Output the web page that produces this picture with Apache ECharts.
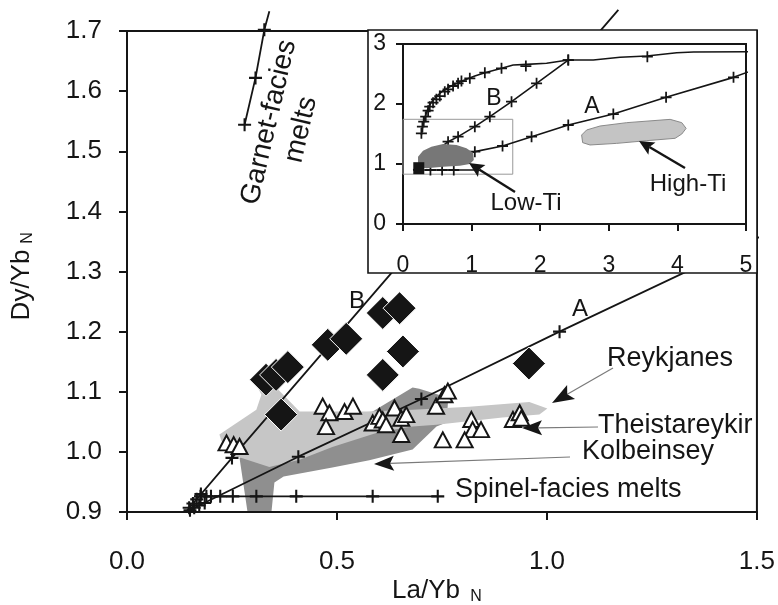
<!DOCTYPE html>
<html>
<head>
<meta charset="utf-8">
<script src="https://cdn.jsdelivr.net/npm/echarts@6/dist/echarts.min.js"></script>
<style>
  html, body { margin: 0; padding: 0; background: #fff; }
  #chart { width: 778px; height: 605px; }
</style>
</head>
<body>
<div id="chart"></div>
<script>
// ---------- main diagram: Dy/Yb(N) against La/Yb(N) ----------
const mainXTicks = [0.0, 0.5, 1.0, 1.5];
const mainYTicks = [0.9, 1.0, 1.1, 1.2, 1.3, 1.4, 1.5, 1.6, 1.7];

// sample groups
const diamonds = [
  [0.331, 1.120], [0.355, 1.128], [0.383, 1.141], [0.367, 1.062],
  [0.478, 1.178], [0.522, 1.188], [0.609, 1.231], [0.649, 1.239],
  [0.657, 1.167], [0.609, 1.128], [0.957, 1.147]
];
const triangles = [
  [0.237, 1.015], [0.254, 1.012], [0.268, 1.009],
  [0.466, 1.076], [0.482, 1.065], [0.474, 1.042], [0.518, 1.067], [0.538, 1.076],
  [0.585, 1.048], [0.601, 1.059], [0.609, 1.053], [0.617, 1.045], [0.637, 1.073],
  [0.653, 1.056], [0.665, 1.062], [0.653, 1.029], [0.736, 1.076], [0.756, 1.095],
  [0.764, 1.101], [0.820, 1.054], [0.823, 1.037], [0.843, 1.037], [0.752, 1.020],
  [0.804, 1.020], [0.919, 1.054], [0.935, 1.065], [0.939, 1.056]
];

// compositional fields
const reykjanesField = [
  [0.308, 1.112], [0.358, 1.105], [0.411, 1.067], [0.570, 1.067], [0.680, 1.070],
  [0.815, 1.075], [0.958, 1.083], [1.001, 1.072], [0.982, 1.062], [0.894, 1.057],
  [0.737, 1.045], [0.680, 1.042], [0.601, 1.033], [0.489, 1.008], [0.411, 0.987],
  [0.339, 0.975], [0.251, 0.995], [0.225, 1.018], [0.220, 1.029], [0.308, 1.070],
  [0.320, 1.095]
];
const kolbeinseyField = [
  [0.268, 0.990], [0.287, 0.900], [0.344, 0.900], [0.351, 0.949], [0.373, 0.959],
  [0.489, 0.974], [0.577, 0.986], [0.680, 1.004], [0.737, 1.042], [0.761, 1.049],
  [0.765, 1.090], [0.696, 1.105], [0.680, 1.107], [0.585, 1.067], [0.411, 1.020],
  [0.292, 1.004]
];

// melting curves
const curveA = [[0.14, 0.900], [0.408, 0.992], [0.701, 1.088], [1.03, 1.200], [1.55, 1.372]];
const curveATicks = [[0.150, 0.903], [0.160, 0.907], [0.172, 0.911], [0.185, 0.915],
                     [0.408, 0.992], [0.701, 1.088], [1.03, 1.200]];
const curveB = [[0.14, 0.900], [0.25, 0.990], [1.17, 1.735]];
const curveBTicks = [[0.148, 0.907], [0.157, 0.914], [0.166, 0.921], [0.176, 0.930], [0.25, 0.990]];
const spinelMelts = [[0.160, 0.926], [0.740, 0.926]];
const spinelTicks = [[0.175, 0.926], [0.189, 0.926], [0.200, 0.926], [0.222, 0.926], [0.252, 0.926],
                     [0.308, 0.926], [0.403, 0.926], [0.585, 0.926], [0.740, 0.926]];
const garnetMelts = [[0.280, 1.544], [0.306, 1.622], [0.327, 1.702], [0.339, 1.733]];
const garnetTicks = [[0.280, 1.544], [0.306, 1.622], [0.327, 1.702]];

// ---------- inset: full range of the melting curves ----------
const insetXTicks = [0, 1, 2, 3, 4, 5];
const insetYTicks = [0, 1, 2, 3];
const insetGarnet = [
  [0.268, 1.483], [0.283, 1.594], [0.302, 1.706], [0.331, 1.817], [0.366, 1.928],
  [0.404, 2.011], [0.448, 2.078], [0.511, 2.150], [0.584, 2.222], [0.657, 2.272],
  [0.730, 2.317], [0.828, 2.367], [0.925, 2.411], [1.047, 2.467], [1.193, 2.522],
  [1.412, 2.589], [1.606, 2.650], [1.801, 2.661], [2.093, 2.678], [2.409, 2.733],
  [2.774, 2.733], [3.164, 2.778], [3.553, 2.800], [3.991, 2.855], [4.234, 2.867],
  [5.159, 2.872]
];
const insetGarnetTicks = [
  [0.268, 1.511], [0.283, 1.622], [0.302, 1.706], [0.331, 1.789], [0.366, 1.889],
  [0.390, 1.956], [0.438, 2.022], [0.487, 2.078], [0.536, 2.133], [0.609, 2.206],
  [0.657, 2.244], [0.730, 2.300], [0.803, 2.344], [0.852, 2.383], [0.974, 2.428],
  [1.193, 2.522], [1.436, 2.594], [1.791, 2.633], [2.409, 2.733], [3.562, 2.789]
];
const insetB = [[0.15, 0.90], [0.657, 1.372], [0.803, 1.456], [1.047, 1.622], [1.266, 1.789],
                [1.582, 2.039], [1.947, 2.344], [2.409, 2.733]];
const insetBTicks = [[0.657, 1.372], [0.803, 1.456], [1.047, 1.622], [1.266, 1.789],
                     [1.582, 2.039], [1.947, 2.344], [2.409, 2.733]];
const insetA = [[0.15, 0.90], [1.047, 1.206], [1.451, 1.300], [1.874, 1.456], [2.409, 1.650],
                [3.066, 1.833], [3.835, 2.111], [4.818, 2.444], [5.174, 2.594]];
const insetATicks = [[1.047, 1.206], [1.451, 1.300], [1.874, 1.456], [2.409, 1.650],
                     [3.066, 1.833], [3.835, 2.111], [4.818, 2.444]];
const insetSpinel = [[0.15, 0.90], [1.10, 0.90]];
const insetSpinelTicks = [[0.40, 0.90], [0.57, 0.90], [0.74, 0.90]];
const insetSamples = [[0.23, 0.93]];
const lowTiField = [
  [0.219, 0.956], [0.219, 1.122], [0.292, 1.222], [0.414, 1.289], [0.584, 1.333],
  [0.779, 1.317], [0.925, 1.261], [1.022, 1.189], [1.032, 1.067], [0.974, 1.000],
  [0.828, 0.972], [0.584, 0.956], [0.342, 0.928]
];
const highTiField = [
  [2.604, 1.483], [2.677, 1.567], [2.872, 1.633], [3.261, 1.689], [3.894, 1.744],
  [4.064, 1.689], [4.127, 1.594], [4.064, 1.500], [3.966, 1.428], [3.553, 1.389],
  [3.115, 1.344], [2.726, 1.317], [2.619, 1.356]
];
const mainFrame = [[0, 0.83], [1.6, 0.83], [1.6, 1.745], [0, 1.745], [0, 0.83]];

// ---------- styling ----------
const INK = '#151515';
const FONT = '"Liberation Sans", Arial, Helvetica, sans-serif';
const PLUS = 'path://M4.2,0H5.8V4.2H10V5.8H5.8V10H4.2V5.8H0V4.2H4.2Z';

function lineSeries(data, axis, width, zl, z, color) {
  return {
    type: 'line', data, xAxisIndex: axis, yAxisIndex: axis, symbol: 'none', clip: false,
    lineStyle: { color: color || INK, width }, zlevel: zl, z, silent: true
  };
}
function tickSeries(data, axis, size, zl, z) {
  return {
    type: 'scatter', data, xAxisIndex: axis, yAxisIndex: axis, symbol: PLUS,
    symbolSize: size, itemStyle: { color: INK, opacity: 1 }, clip: false, zlevel: zl, z, silent: true
  };
}
function fieldSeries(pts, axis, fill, stroke, zl, z) {
  return {
    type: 'custom', xAxisIndex: axis, yAxisIndex: axis, data: pts, encode: { x: 0, y: 1 },
    zlevel: zl, z, silent: true,
    renderItem: function (params, api) {
      if (params.dataIndex !== 0) return;
      return {
        type: 'polygon',
        shape: { points: pts.map(p => api.coord(p)) },
        style: { fill, stroke: stroke || null, lineWidth: stroke ? 1 : 0 }
      };
    }
  };
}

function axisPair(grid, xr, yr, opts) {
  const common = {
    gridIndex: grid, type: 'value', splitLine: { show: false },
    axisLine: { show: true, onZero: false, lineStyle: { color: INK, width: 2 } },
    axisTick: { show: true, inside: false, length: opts.tick, lineStyle: { color: INK, width: 2 } },
    zlevel: opts.zl, z: 3
  };
  return {
    x: Object.assign({}, common, {
      min: xr[0], max: xr[xr.length - 1], interval: xr[1] - xr[0],
      axisLabel: { margin: opts.xm, fontSize: opts.fs, color: INK, fontFamily: FONT,
                   formatter: v => opts.fmt(v) }
    }),
    y: Object.assign({}, common, {
      min: yr[0], max: yr[yr.length - 1], interval: Math.round((yr[1] - yr[0]) * 10) / 10,
      axisLabel: { margin: opts.ym, fontSize: opts.fs, color: INK, fontFamily: FONT,
                   formatter: v => opts.fmt(v) }
    })
  };
}

const mainAx = axisPair(0, mainXTicks, mainYTicks,
  { tick: 8, xm: 37, ym: 25, fs: 26, zl: 0, fmt: v => v.toFixed(1) });
const insetAx = axisPair(1, insetXTicks, insetYTicks,
  { tick: 7, xm: 30, ym: 17, fs: 23, zl: 1, fmt: v => String(Math.round(v)) });

// annotation helpers (pixel layout)
function arrow(from, tip, headLen, headHalf, lineColor, lineWidth, zl) {
  const dx = tip[0] - from[0], dy = tip[1] - from[1];
  const L = Math.hypot(dx, dy), ux = dx / L, uy = dy / L;
  const base = [tip[0] - ux * headLen, tip[1] - uy * headLen];
  const p1 = [base[0] - uy * headHalf, base[1] + ux * headHalf];
  const p2 = [base[0] + uy * headHalf, base[1] - ux * headHalf];
  const notch = [tip[0] - ux * headLen * 0.8, tip[1] - uy * headLen * 0.8];
  return [
    { type: 'line', zlevel: zl, z: 30, silent: true,
      shape: { x1: from[0], y1: from[1], x2: notch[0], y2: notch[1] },
      style: { stroke: lineColor, lineWidth } },
    { type: 'polygon', zlevel: zl, z: 31, silent: true,
      shape: { points: [tip, p1, notch, p2] }, style: { fill: INK } }
  ];
}
function label(text, x, y, size, zl, align, rot, lh) {
  return {
    type: 'text', x, y, rotation: rot || 0, zlevel: zl, z: 40, silent: true,
    style: { text, fill: INK, font: size + 'px ' + FONT, align: align || 'left',
             verticalAlign: 'middle', lineHeight: lh || size }
  };
}

const graphics = [
  // inset panel
  { type: 'rect', zlevel: 1, z: 0, silent: true,
    shape: { x: 368, y: 30, width: 389, height: 243 },
    style: { fill: '#fff', stroke: INK, lineWidth: 1.6 } },
  // axis titles
  label('La/Yb', 426, 591, 26, 0, 'center'),
  label('N', 476, 597, 16, 0, 'center'),
  label('Dy/Yb', 22, 285, 26, 0, 'center', Math.PI / 2),
  label('N', 28, 238, 16, 0, 'center', Math.PI / 2),
  // main annotations
  label('B', 357, 301, 24, 0, 'center'),
  label('A', 580, 309, 24, 0, 'center'),
  label('Reykjanes', 607, 359, 27, 0),
  label('Theistareykir', 598, 426, 27, 0),
  label('Kolbeinsey', 582, 452, 27, 0),
  label('Spinel-facies melts', 455, 490, 27, 0),
  label('Garnet-facies\nmelts', 285, 126, 28, 0, 'center', 77 * Math.PI / 180, 33),
  ...arrow([613, 368], [552, 403], 22, 8, '#7a7a7a', 1.2, 0),
  ...arrow([598, 427], [522, 428], 20, 7.5, '#7a7a7a', 1.2, 0),
  ...arrow([570, 457], [374, 464], 20, 7.5, '#7a7a7a', 1.2, 0),
  // inset annotations
  label('B', 494, 99, 23, 1, 'center'),
  label('A', 592, 107, 23, 1, 'center'),
  label('Low-Ti', 526, 203, 24, 1, 'center'),
  label('High-Ti', 688, 184, 24, 1, 'center'),
  ...arrow([515, 192], [469, 163], 15, 7, INK, 2.4, 1),
  ...arrow([685, 168], [639, 141], 15, 7, INK, 2.4, 1)
];

const series = [
  // main diagram
  fieldSeries(reykjanesField, 0, '#c6c6c6', null, 0, 1),
  fieldSeries(kolbeinseyField, 0, '#8f8f8f', null, 0, 0),
  lineSeries(curveA, 0, 1.8, 0, 3),
  lineSeries(curveB, 0, 1.8, 0, 3),
  lineSeries(spinelMelts, 0, 1.8, 0, 3),
  lineSeries(garnetMelts, 0, 1.8, 0, 3),
  tickSeries(curveATicks, 0, 13, 0, 4),
  tickSeries(curveBTicks, 0, 13, 0, 4),
  tickSeries(spinelTicks, 0, 13, 0, 4),
  tickSeries(garnetTicks, 0, 13, 0, 4),
  { type: 'scatter', data: triangles, xAxisIndex: 0, yAxisIndex: 0, symbol: 'triangle',
    symbolSize: [16, 15], itemStyle: { color: '#fff', borderColor: INK, borderWidth: 2, opacity: 1 },
    zlevel: 0, z: 6, silent: true },
  { type: 'scatter', data: diamonds, xAxisIndex: 0, yAxisIndex: 0, symbol: 'diamond',
    symbolSize: 33, itemStyle: { color: INK, borderColor: '#fff', borderWidth: 1, opacity: 1 },
    zlevel: 0, z: 7, silent: true },
  // inset
  lineSeries(mainFrame, 1, 1, 1, 4, '#999'),
  fieldSeries(highTiField, 1, '#c4c4c4', '#8a8a8a', 1, 5),
  lineSeries(insetGarnet, 1, 1.6, 1, 6),
  lineSeries(insetB, 1, 1.6, 1, 6),
  lineSeries(insetA, 1, 1.6, 1, 6),
  lineSeries(insetSpinel, 1, 1.6, 1, 6),
  tickSeries(insetGarnetTicks, 1, 11, 1, 7),
  tickSeries(insetBTicks, 1, 11, 1, 7),
  tickSeries(insetATicks, 1, 11, 1, 7),
  tickSeries(insetSpinelTicks, 1, 11, 1, 7),
  fieldSeries(lowTiField, 1, '#777777', null, 1, 8),
  { type: 'scatter', data: insetSamples, xAxisIndex: 1, yAxisIndex: 1, symbol: 'rect',
    symbolSize: [11, 12], itemStyle: { color: INK, opacity: 1 }, zlevel: 1, z: 9, silent: true }
];

const chart = echarts.init(document.getElementById('chart'), null, { renderer: 'canvas' });
chart.setOption({
  animation: false,
  backgroundColor: '#fff',
  textStyle: { fontFamily: FONT },
  grid: [
    { left: 127, top: 31, width: 630, height: 481, show: true, borderColor: INK, borderWidth: 2,
      backgroundColor: 'transparent', zlevel: 0, z: 1 },
    { left: 403, top: 44, width: 343, height: 180, show: true, borderColor: INK, borderWidth: 2,
      backgroundColor: 'transparent', zlevel: 1, z: 2 }
  ],
  xAxis: [mainAx.x, insetAx.x],
  yAxis: [mainAx.y, insetAx.y],
  series,
  graphic: { elements: graphics }
});
</script>
</body>
</html>
